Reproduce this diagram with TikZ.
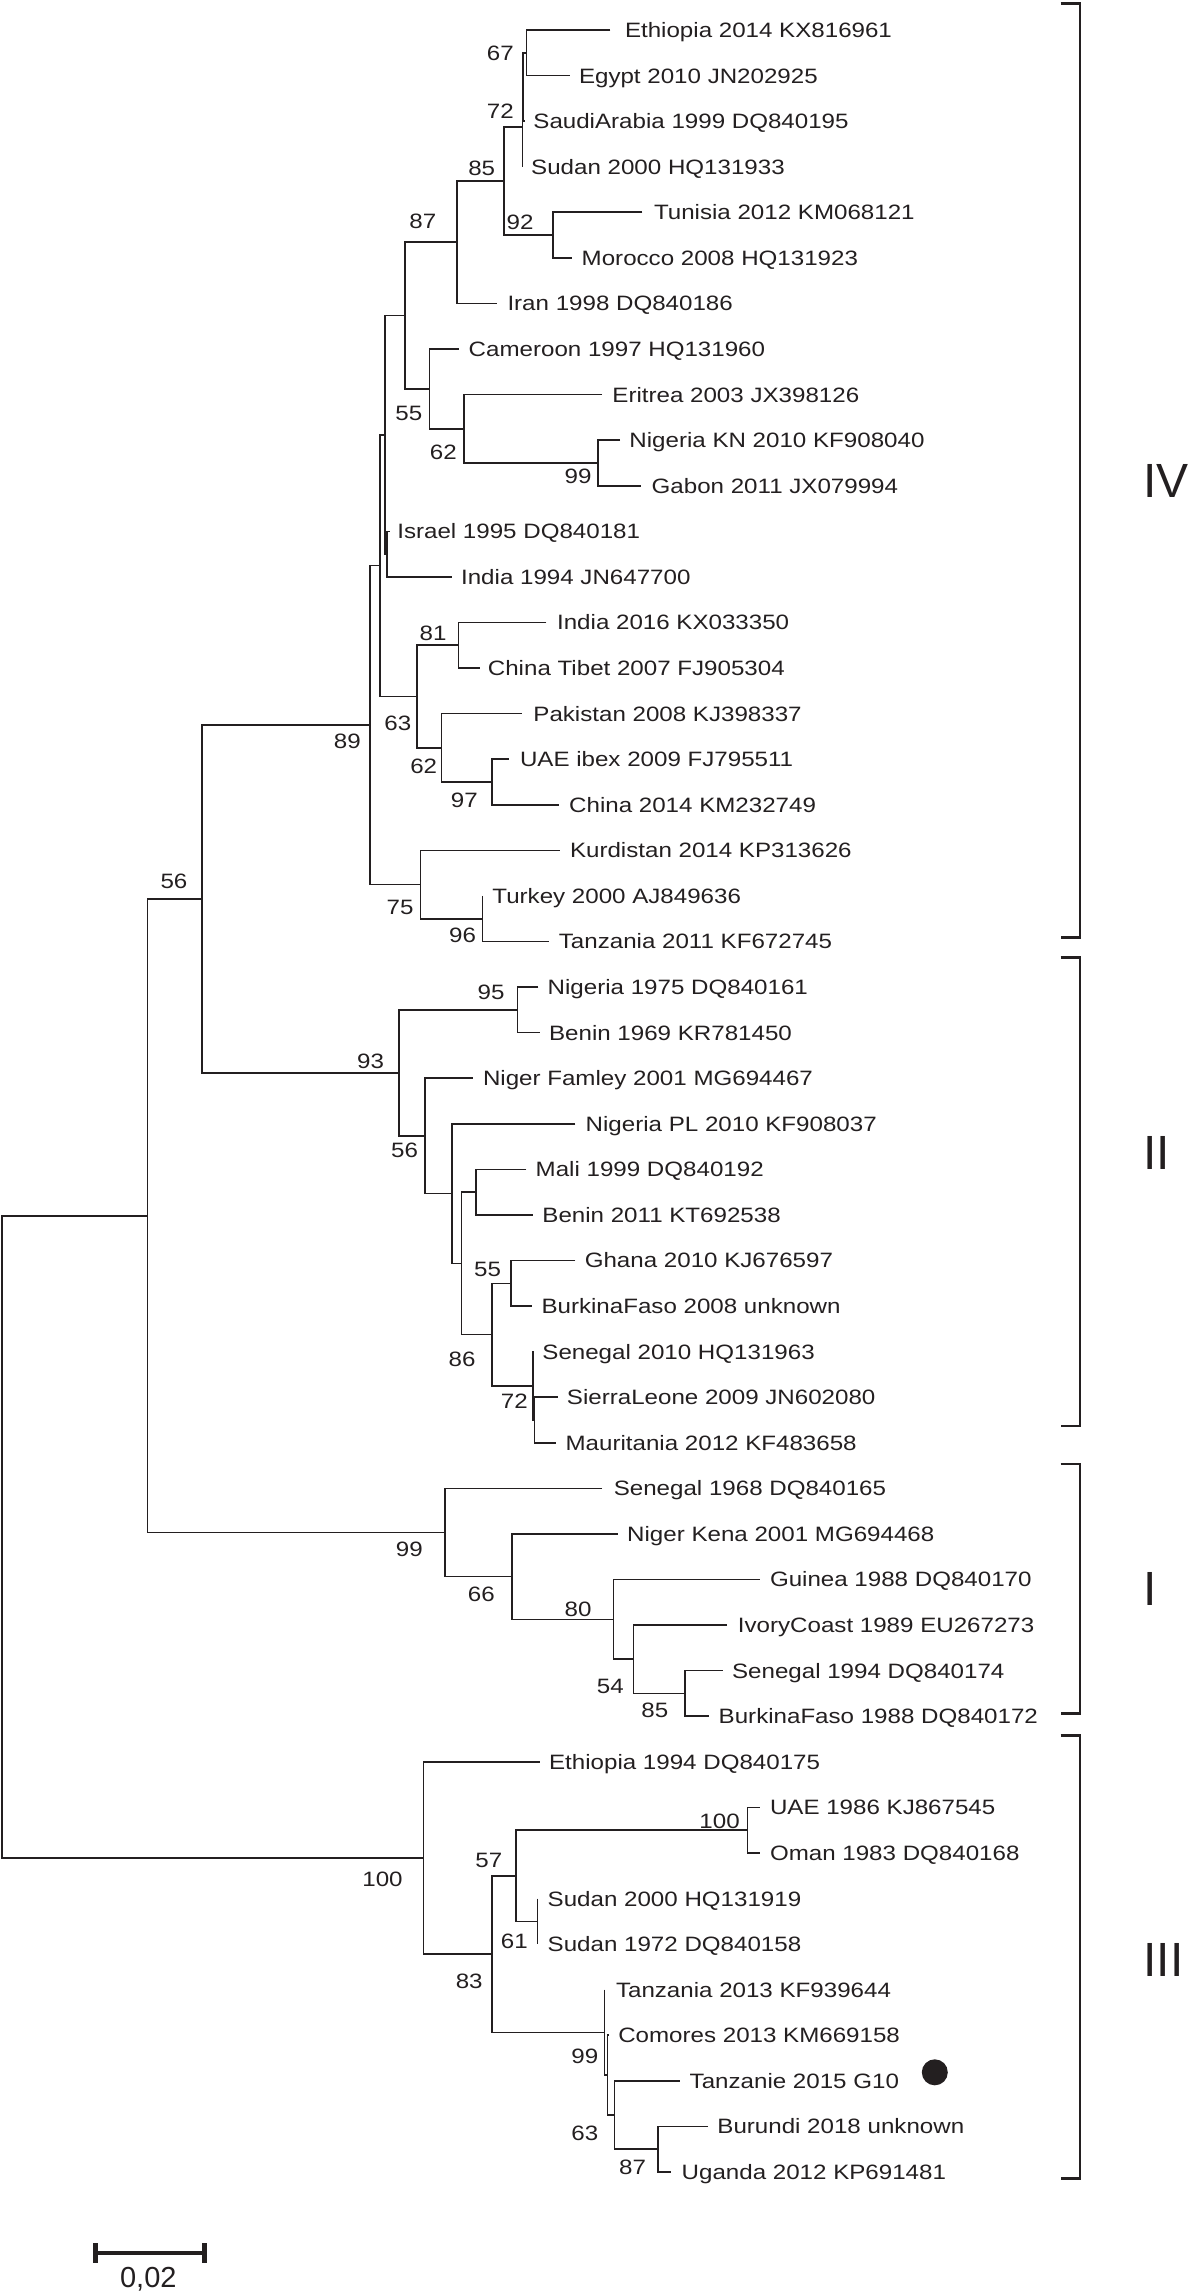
\documentclass[tikz,border=0pt]{standalone}
\usepackage{fontspec}
\setmainfont{Liberation Sans}[FakeStretch=1.16]
\newfontfamily\romfont{Liberation Sans}
\definecolor{ink}{HTML}{231F20}
\newcommand\leaf[5]{%
  \coordinate (#1) at (#2,30+45.574*#3);
  \node[lab] (#1t) at (#4,37.45+45.574*#3) {#5};}
\begin{document}
\begin{tikzpicture}[x=0.5pt,y=-0.5pt,
  br/.style={draw=ink,line width=0.8pt},
  lab/.style={anchor=base west,inner sep=0,text=ink,font=\fontsize{10.4pt}{12pt}\selectfont},
  bsv/.style={anchor=center,inner sep=0,text=ink,font=\fontsize{10.4pt}{12pt}\selectfont},
  brk/.style={draw=ink,line width=1.4pt},
  rom/.style={anchor=base west,inner sep=0,text=ink,font=\romfont\fontsize{24pt}{28pt}\selectfont}]
\useasboundingbox (0,0) rectangle (1189,2295);
% ---------------- leaves ----------------
\leaf{tEth14}{610.3}{0}{624.6}{Ethiopia 2014 KX816961}
\leaf{tEgy}{569.6}{1}{578.6}{Egypt 2010 JN202925}
\leaf{tSau}{524.5}{2}{533}{SaudiArabia 1999 DQ840195}
\leaf{tSudA}{522.3}{3}{530.8}{Sudan 2000 HQ131933}
\leaf{tTun}{642.4}{4}{653.6}{Tunisia 2012 KM068121}
\leaf{tMor}{571.9}{5}{581.3}{Morocco 2008 HQ131923}
\leaf{tIran}{497.3}{6}{507.1}{Iran 1998 DQ840186}
\leaf{tCam}{458.5}{7}{468.3}{Cameroon 1997 HQ131960}
\leaf{tEri}{602.2}{8}{612}{Eritrea 2003 JX398126}
\leaf{tNigKN}{620.1}{9}{629}{Nigeria KN 2010 KF908040}
\leaf{tGab}{641.1}{10}{651.3}{Gabon 2011 JX079994}
\leaf{tIsr}{389.5}{11}{396.9}{Israel 1995 DQ840181}
\leaf{tInd94}{451.8}{12}{460.7}{India 1994 JN647700}
\leaf{tInd16}{546.4}{13}{556.7}{India 2016 KX033350}
\leaf{tTib}{479.5}{14}{487.5}{China Tibet 2007 FJ905304}
\leaf{tPak}{521.9}{15}{533}{Pakistan 2008 KJ398337}
\leaf{tUAEi}{508.5}{16}{519.6}{UAE ibex 2009 FJ795511}
\leaf{tChi}{558.9}{17}{568.8}{China 2014 KM232749}
\leaf{tKur}{559.8}{18}{569.6}{Kurdistan 2014 KP313626}
\leaf{tTur}{482.6}{19}{492}{Turkey 2000 AJ849636}
\leaf{tTanA}{548.7}{20}{558.5}{Tanzania 2011 KF672745}
\leaf{tNig75}{538.4}{21}{547.3}{Nigeria 1975 DQ840161}
\leaf{tBen69}{539.7}{22}{548.7}{Benin 1969 KR781450}
\leaf{tNigFam}{472.8}{23}{482.6}{Niger Famley 2001 MG694467}
\leaf{tNigPL}{575.4}{24}{585.3}{Nigeria PL 2010 KF908037}
\leaf{tMali}{526.3}{25}{535.3}{Mali 1999 DQ840192}
\leaf{tBen11}{533}{26}{542}{Benin 2011 KT692538}
\leaf{tGha}{575.4}{27}{584.4}{Ghana 2010 KJ676597}
\leaf{tBFA}{532.1}{28}{541.1}{BurkinaFaso 2008 unknown}
\leaf{tSen10}{533.5}{29}{542}{Senegal 2010 HQ131963}
\leaf{tSL}{557.6}{30}{566.5}{SierraLeone 2009 JN602080}
\leaf{tMau}{556.3}{31}{565.2}{Mauritania 2012 KF483658}
\leaf{tSen68}{602.2}{32}{613.4}{Senegal 1968 DQ840165}
\leaf{tNigK}{617.9}{33}{626.8}{Niger Kena 2001 MG694468}
\leaf{tGui}{759.8}{34}{769.6}{Guinea 1988 DQ840170}
\leaf{tIvo}{727.2}{35}{737.5}{IvoryCoast 1989 EU267273}
\leaf{tSen94}{722.8}{36}{731.7}{Senegal 1994 DQ840174}
\leaf{tBFB}{709.4}{37}{718.3}{BurkinaFaso 1988 DQ840172}
\leaf{tEth94}{539.7}{38}{548.7}{Ethiopia 1994 DQ840175}
\leaf{tUAE}{759.8}{39}{769.6}{UAE 1986 KJ867545}
\leaf{tOman}{759.8}{40}{769.6}{Oman 1983 DQ840168}
\leaf{tSudB}{537.5}{41}{547.3}{Sudan 2000 HQ131919}
\leaf{tSudC}{537.5}{42}{547.3}{Sudan 1972 DQ840158}
\leaf{tTanB}{604.5}{43}{615.6}{Tanzania 2013 KF939644}
\leaf{tCom}{609}{44}{617.9}{Comores 2013 KM669158}
\leaf{tTanz}{679.5}{45}{689.3}{Tanzanie 2015 G10}
\leaf{tBur}{708}{46}{717}{Burundi 2018 unknown}
\leaf{tUga}{671.4}{47}{681.3}{Uganda 2012 KP691481}
% ---------------- internal nodes ----------------
\coordinate (nA67) at (526.3,52.79);
\coordinate (nX) at (522.8,86.97);
\coordinate (n72) at (522.3,126.85);
\coordinate (n92) at (553.1,235.09);
\coordinate (n85) at (504,180.97);
\coordinate (n87) at (457.1,242.2);
\coordinate (n99a) at (597.8,462.96);
\coordinate (n62a) at (463.8,428.78);
\coordinate (n55a) at (429.5,388.9);
\coordinate (nP1) at (404.9,315.55);
\coordinate (nII) at (387,554.1);
\coordinate (nN1) at (384.8,434.83);
\coordinate (n81) at (458.5,645.25);
\coordinate (n97) at (492,781.97);
\coordinate (n62b) at (441.5,747.79);
\coordinate (n63) at (417,696.52);
\coordinate (nN2) at (379.8,565.68);
\coordinate (n96) at (482.6,918.7);
\coordinate (n75) at (420.5,884.52);
\coordinate (n89) at (370.1,725.1);
\coordinate (n95) at (517.4,1009.84);
\coordinate (nN5) at (475.9,1192.14);
\coordinate (n55b) at (510.7,1283.29);
\coordinate (nS) at (534.6,1420.01);
\coordinate (n72b) at (533,1385.83);
\coordinate (n86) at (492,1334.56);
\coordinate (nN4) at (461.6,1263.35);
\coordinate (nN3) at (451.8,1193.57);
\coordinate (n56b) at (425,1135.89);
\coordinate (n93) at (399.1,1072.87);
\coordinate (n56) at (201.7,898.99);
\coordinate (n85b) at (684.8,1693.45);
\coordinate (n54) at (633.5,1659.27);
\coordinate (n80) at (613.4,1619.4);
\coordinate (n66) at (512,1576.67);
\coordinate (n99c) at (445,1532.52);
\coordinate (nR1) at (147.3,1215.76);
\coordinate (n100b) at (747.3,1830.18);
\coordinate (n61) at (537.5,1921.32);
\coordinate (n57) at (516.1,1875.75);
\coordinate (n87b) at (658,2149.19);
\coordinate (n63b) at (614.3,2115.01);
\coordinate (nS1) at (607.6,2075.14);
\coordinate (n99d) at (604.5,2032.41);
\coordinate (n83) at (492,1954.08);
\coordinate (n100c) at (423.3,1857.95);
\coordinate (root) at (1.8,1536.86);
% ---------------- branches ----------------
\draw[br] (tEth14) -| (nA67) |- (tEgy);
\draw[br] (nA67) -| (nX) |- (tSau);
\draw[br] (nX) -| (n72) |- (tSudA);
\draw[br] (tTun) -| (n92) |- (tMor);
\draw[br] (n72) -| (n85) |- (n92);
\draw[br] (n85) -| (n87) |- (tIran);
\draw[br] (tNigKN) -| (n99a) |- (tGab);
\draw[br] (tEri) -| (n62a) |- (n99a);
\draw[br] (tCam) -| (n55a) |- (n62a);
\draw[br] (n87) -| (nP1) |- (n55a);
\draw[br] (tIsr) -| (nII) |- (tInd94);
\draw[br] (nP1) -| (nN1) |- (nII);
\draw[br] (tInd16) -| (n81) |- (tTib);
\draw[br] (tUAEi) -| (n97) |- (tChi);
\draw[br] (tPak) -| (n62b) |- (n97);
\draw[br] (n81) -| (n63) |- (n62b);
\draw[br] (nN1) -| (nN2) |- (n63);
\draw[br] (tTur) -| (n96) |- (tTanA);
\draw[br] (tKur) -| (n75) |- (n96);
\draw[br] (nN2) -| (n89) |- (n75);
\draw[br] (tNig75) -| (n95) |- (tBen69);
\draw[br] (tMali) -| (nN5) |- (tBen11);
\draw[br] (tGha) -| (n55b) |- (tBFA);
\draw[br] (tSL) -| (nS) |- (tMau);
\draw[br] (tSen10) -| (n72b) |- (nS);
\draw[br] (n55b) -| (n86) |- (n72b);
\draw[br] (nN5) -| (nN4) |- (n86);
\draw[br] (tNigPL) -| (nN3) |- (nN4);
\draw[br] (tNigFam) -| (n56b) |- (nN3);
\draw[br] (n95) -| (n93) |- (n56b);
\draw[br] (n89) -| (n56) |- (n93);
\draw[br] (tSen94) -| (n85b) |- (tBFB);
\draw[br] (tIvo) -| (n54) |- (n85b);
\draw[br] (tGui) -| (n80) |- (n54);
\draw[br] (tNigK) -| (n66) |- (n80);
\draw[br] (tSen68) -| (n99c) |- (n66);
\draw[br] (n56) -| (nR1) |- (n99c);
\draw[br] (tUAE) -| (n100b) |- (tOman);
\draw[br] (tSudB) -| (n61) |- (tSudC);
\draw[br] (n100b) -| (n57) |- (n61);
\draw[br] (tBur) -| (n87b) |- (tUga);
\draw[br] (tTanz) -| (n63b) |- (n87b);
\draw[br] (tCom) -| (nS1) |- (n63b);
\draw[br] (tTanB) -| (n99d) |- (nS1);
\draw[br] (n57) -| (n83) |- (n99d);
\draw[br] (tEth94) -| (n100c) |- (n83);
\draw[br,line width=1.2pt] (nR1) -| (root) |- (n100c);
% ---------------- bootstrap values ----------------
\node[bsv] (b1) at (500.4,53.3) {67};
\node[bsv] (b2) at (500.4,111) {72};
\node[bsv] (b3) at (481.7,168.3) {85};
\node[bsv] (b4) at (520.1,222.7) {92};
\node[bsv] (b5) at (422.8,221.7) {87};
\node[bsv] (b6) at (408.9,413.3) {55};
\node[bsv] (b7) at (443.3,452.7) {62};
\node[bsv] (b8) at (578.1,476.7) {99};
\node[bsv] (b9) at (433,633.3) {81};
\node[bsv] (b10) at (397.8,723.3) {63};
\node[bsv] (b11) at (423.7,766) {62};
\node[bsv] (b12) at (464.3,800) {97};
\node[bsv] (b13) at (400,907.7) {75};
\node[bsv] (b14) at (462.5,935) {96};
\node[bsv] (b15) at (347.3,741.5) {89};
\node[bsv] (b16) at (174,881.3) {56};
\node[bsv] (b17) at (491.1,992.3) {95};
\node[bsv] (b18) at (370.5,1061) {93};
\node[bsv] (b19) at (404.5,1150.5) {56};
\node[bsv] (b20) at (487.5,1269.3) {55};
\node[bsv] (b21) at (462,1359.3) {86};
\node[bsv] (b22) at (514.3,1401.7) {72};
\node[bsv] (b23) at (409.4,1549) {99};
\node[bsv] (b24) at (481.3,1594) {66};
\node[bsv] (b25) at (578.1,1609.3) {80};
\node[bsv] (b26) at (610.3,1686.7) {54};
\node[bsv] (b27) at (654.9,1710) {85};
\node[bsv] (b28) at (719.6,1821.7) {100};
\node[bsv] (b29) at (488.8,1860) {57};
\node[bsv] (b30) at (382.5,1879.3) {100};
\node[bsv] (b31) at (514.3,1941) {61};
\node[bsv] (b32) at (469.2,1981.7) {83};
\node[bsv] (b33) at (584.8,2056.7) {99};
\node[bsv] (b34) at (584.8,2133.3) {63};
\node[bsv] (b35) at (632.6,2167.3) {87};
% ---------------- brackets ----------------
\coordinate (k4a) at (1060.7,3.7);   \coordinate (k4b) at (1060.7,937.6);
\coordinate (k2a) at (1060.7,957.4); \coordinate (k2b) at (1060.7,1426);
\coordinate (k1a) at (1060.7,1464);  \coordinate (k1b) at (1060.7,1713.7);
\coordinate (k3a) at (1060.7,1735.7);\coordinate (k3b) at (1060.7,2178.2);
\draw[brk] (k4a) -- ++(19.3,0) |- (k4b);
\draw[brk] (k2a) -- ++(19.3,0) |- (k2b);
\draw[brk] (k1a) -- ++(19.3,0) |- (k1b);
\draw[brk] (k3a) -- ++(19.3,0) |- (k3b);
\node[rom] (cIV) at (1143.2,497.8) {IV};
\node[rom] (cII) at (1143.2,1169.3) {II};
\node[rom] (cI) at (1143.2,1605.2) {I};
\node[rom] (cIII) at (1143.2,1976.2) {III};
% ---------------- marker and scale ----------------
\node[circle,fill=ink,minimum size=13pt,inner sep=0] (dot) at (934.8,2072.3) {};
\coordinate (s1) at (95.5,2253.3); \coordinate (s2) at (204.5,2253.3);
\draw[ink,line width=2pt] (s1) -- (s2);
\draw[ink,line width=2.5pt] ([yshift=5pt]s1) -- ([yshift=-5pt]s1);
\draw[ink,line width=2.5pt] ([yshift=5pt]s2) -- ([yshift=-5pt]s2);
\node[anchor=center,inner sep=0,text=ink,font=\romfont\fontsize{14.5pt}{16pt}\selectfont] (sl) at (148.3,2279.7) {0,02};
\end{tikzpicture}
\end{document}
